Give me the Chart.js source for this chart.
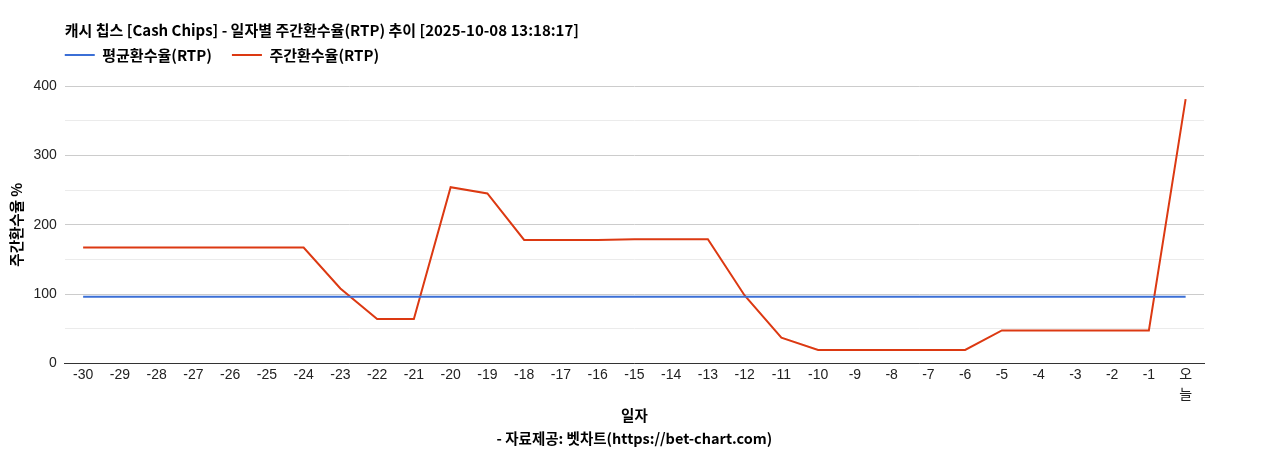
<!DOCTYPE html>
<html><head><meta charset="utf-8">
<script src="https://cdn.jsdelivr.net/npm/chart.js@4.4.0/dist/chart.umd.min.js"></script>
<style>html,body{margin:0;padding:0;background:#fff}#wrap{width:1268px;height:450px}</style>
</head><body><div id="wrap"><canvas id="c" width="1268" height="450"></canvas></div>
<script>
const categories = ['-30','-29','-28','-27','-26','-25','-24','-23','-22','-21','-20','-19','-18','-17','-16','-15','-14','-13','-12','-11','-10','-9','-8','-7','-6','-5','-4','-3','-2','-1',['오','늘']];
const avgRTP = [96,96,96,96,96,96,96,96,96,96,96,96,96,96,96,96,96,96,96,96,96,96,96,96,96,96,96,96,96,96,96];
const weeklyRTP = [167,167,167,167,167,167,167,108,64,64,254,245,178,178,178,179,179,179,98,37,19.5,19.5,19.5,19.5,19.5,47.5,47.5,47.5,47.5,47.5,381];
const yTicks = [0,100,200,300,400];
const titleText = '캐시 칩스 [Cash Chips] - 일자별 주간환수율(RTP) 추이 [2025-10-08 13:18:17]';
const seriesNames = ['평균환수율(RTP)','주간환수율(RTP)'];

const KR = "'Noto Sans CJK KR', 'Noto Sans', sans-serif";
const SANS = "'Liberation Sans', 'Noto Sans CJK KR', Arial, sans-serif";

const LEGEND_H = 47;
const LEGEND_CY = 55;

const shiftPlugin = {
  id: 'shift',
  afterInit(chart) {
    const lg = chart.legend;
    if (lg && !lg._patched) {
      const orig = lg.fit.bind(lg);
      lg.fit = function () { orig(); this.height = LEGEND_H; };
      lg._patched = true;
    }
  },
  afterLayout(chart) {
    const L = chart.chartArea.left;
    const t = chart.titleBlock;
    if (t) { const w = t.right - t.left; t.left = L; t.right = L + w; }
    const lg = chart.legend;
    if (lg) {
      const pad = lg.options.labels.padding;
      const w = lg.right - lg.left;
      lg.left = L - pad; lg.right = lg.left + w;
      const fs = lg.options.labels.font.size;
      const bottom = lg.bottom;
      lg.top = LEGEND_CY - pad - fs / 2;
      lg.bottom = bottom;
      lg.height = lg.bottom - lg.top;
    }
  }
};

new Chart(document.getElementById('c'), {
  type: 'line',
  data: {
    labels: categories,
    datasets: [
      { label: seriesNames[0], data: avgRTP, borderColor: '#3b6fd6', backgroundColor: '#3b6fd6', borderWidth: 2, pointRadius: 0, tension: 0 },
      { label: seriesNames[1], data: weeklyRTP, borderColor: '#dc3912', backgroundColor: '#dc3912', borderWidth: 2, pointRadius: 0, tension: 0 }
    ]
  },
  options: {
    responsive: false,
    animation: false,
    layout: { padding: { left: 8, right: 64, top: 21, bottom: 0 } },
    plugins: {
      title: { display: true, text: titleText, align: 'start', color: '#000', font: { family: KR, size: 15, weight: 'bold', lineHeight: 1.2 }, padding: { top: 0, bottom: 0 } },
      legend: { display: true, align: 'start', labels: { usePointStyle: true, pointStyle: 'line', pointStyleWidth: 30, boxHeight: 3, color: '#000', font: { family: KR, size: 15, weight: 'bold', lineHeight: 1 }, padding: 20 } },
      tooltip: { enabled: false }
    },
    scales: {
      x: {
        offset: true,
        grid: { display: true, color: 'transparent', drawTicks: false },
        border: { display: true, color: '#333', width: 1 },
        ticks: { color: '#222', font: { family: SANS, size: 14, lineHeight: 1.4 }, padding: 2, maxRotation: 0, minRotation: 0, autoSkip: false },
        title: { display: true, text: ['일자', '- 자료제공: 벳차트(https://bet-chart.com)'], color: '#000', font: { family: KR, size: 14.5, weight: 'bold', lineHeight: 1.6 }, padding: { top: -3, bottom: 0 } }
      },
      y: {
        min: 0, max: 400,
        grid: { color: (c) => (c.tick && c.tick.value % 100 === 0) ? '#cccccc' : '#ebebeb', drawTicks: false },
        border: { display: false },
        ticks: { stepSize: 50, color: '#222', font: { family: SANS, size: 14 }, padding: 8, callback: (v) => yTicks.includes(v) ? String(v) : '' },
        title: { display: true, text: '주간환수율 %', color: '#000', font: { family: KR, size: 14.5, weight: 'bold', lineHeight: 1.2 }, padding: { top: 0, bottom: 0 } }
      }
    }
  },
  plugins: [shiftPlugin]
});
</script></body></html>
